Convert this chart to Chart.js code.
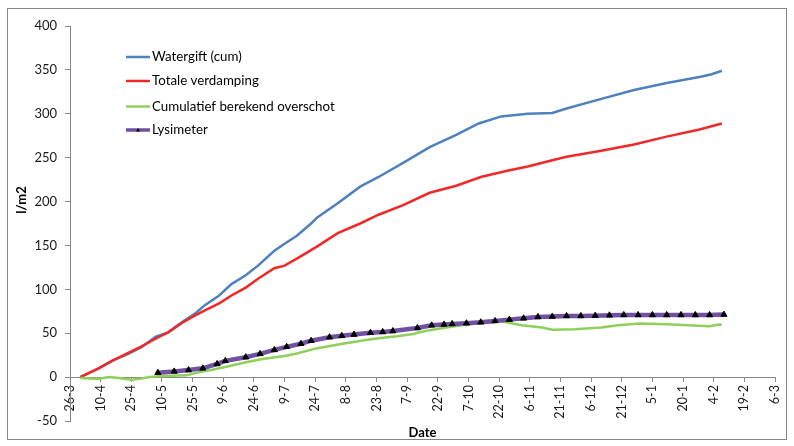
<!DOCTYPE html>
<html>
<head>
<meta charset="utf-8">
<script src="https://cdn.jsdelivr.net/npm/chart.js@4.4.0/dist/chart.umd.min.js"></script>
<style>
  html, body { margin: 0; padding: 0; background: #ffffff; }
  #wrap { width: 794px; height: 446px; position: relative; }
</style>
</head>
<body>
<div id="wrap"><canvas id="chart" width="794" height="446"></canvas></div>
<script>
// Axis labels: one every 15 days, starting 26-3
const tickLabels = ['26-3','10-4','25-4','10-5','25-5','9-6','24-6','9-7','24-7','8-8','23-8','7-9','22-9','7-10','22-10','6-11','21-11','6-12','21-12','5-1','20-1','4-2','19-2','6-3'];
const seriesNames = ['Watergift (cum)', 'Totale verdamping', 'Cumulatief berekend overschot', 'Lysimeter'];
const yAxisTitle = 'l/m2';
const xAxisTitle = 'Date';

// Day numbers count from 26-3 (day 0); values in l/m2
const waterDays   = [5,14,21,28,35,42,48,55,61,66,73,79,86,92,100,105,111,118,121,131,142,151,163,176,189,200,211,224,236,243,260,276,292,308,314,319];
const waterValues = [0,10,19,26,34,46,51,63,72,82,93,106,116,127,144,152,161,175,182,198,217,228,244,262,276,289,297,300,301,306,317,327,335,342,345,349];

const evapDays   = [5,14,21,28,35,42,48,55,61,66,73,79,86,92,100,105,111,121,131,142,151,163,176,189,201,214,224,236,243,260,276,292,308,319];
const evapValues = [0,10,19,27,35,44,51,62,70,76,84,93,102,112,124,127,135,149,164,175,185,196,210,218,228,235,240,247,251,258,265,274,282,289];

const surplusDays   = [5,10,14,19,24,30,34,39,43,57,64,69,77,86,95,105,111,121,132,144,150,160,168,170,176,184,194,202,211,221,231,236,247,260,268,279,292,305,313,316,319];
const surplusValues = [-1,-1.5,-2,0,-1,-3,-2,0,1,2,6,8,12,17,21,24,27,33,37.5,42,44,46.5,49,50.5,53.5,56.5,60,61.7,63.5,59,56.5,54,54.5,56.5,59,61,60.2,58.7,58,59.4,60];

const lysiDays   = [43,51,58,65,72,76,86,93,100,106,113,118,127,133,139,147,153,158,170,177,183,187,194,201,208,215,222,229,236,243,250,257,264,271,278,285,292,299,306,313,320];
const lysiValues = [5,6.5,8,10,15,18.5,22.7,26.5,31,34.5,38,41.5,45.5,47,48.5,50.5,51.5,52.5,56,59,60,60.6,61.4,62.5,64,65.5,67,68.5,69,69.7,69.7,70,70.4,70.8,70.8,70.8,70.8,70.8,70.8,70.8,71.2];

const toPoints = (days, values) => days.map((d, i) => ({ x: d, y: values[i] }));

const FONT = 'Lato, "Liberation Sans", Arial, sans-serif';
const AXIS_GREY = '#868686';

// Outer frame, vertical axis title and the in-plot legend
const frameAndLegend = {
  id: 'frameAndLegend',
  beforeDraw(chart) {
    const ctx = chart.ctx;
    ctx.save();
    ctx.fillStyle = '#ffffff';
    ctx.fillRect(0, 0, chart.width, chart.height);
    ctx.strokeStyle = AXIS_GREY;
    ctx.lineWidth = 1;
    ctx.strokeRect(7.5, 8.5, 779, 431);
    ctx.restore();
  },
  afterDraw(chart) {
    const ctx = chart.ctx;
    ctx.save();
    // vertical axis title, reading bottom to top
    ctx.font = 'bold 13px ' + FONT;
    ctx.fillStyle = '#000000';
    ctx.textAlign = 'center';
    ctx.textBaseline = 'middle';
    ctx.translate(22, 200);
    ctx.rotate(-Math.PI / 2);
    ctx.fillText(yAxisTitle, 0, 0);
    ctx.restore();

    const rowsY = [57, 81, 106.5, 130];
    const x0 = 126, x1 = 150, tx = 152;
    ctx.save();
    ctx.font = '13.3px ' + FONT;
    ctx.textBaseline = 'middle';
    ctx.textAlign = 'left';
    chart.data.datasets.forEach((ds, i) => {
      const y = rowsY[i];
      ctx.strokeStyle = ds.borderColor;
      ctx.lineWidth = i === 3 ? 3.5 : 2.5;
      ctx.lineCap = 'butt';
      ctx.beginPath();
      ctx.moveTo(x0, y);
      ctx.lineTo(x1, y);
      ctx.stroke();
      if (i === 3) {
        ctx.fillStyle = '#000000';
        ctx.beginPath();
        ctx.moveTo(138, y - 2);
        ctx.lineTo(140, y + 1.5);
        ctx.lineTo(136, y + 1.5);
        ctx.closePath();
        ctx.fill();
      }
      ctx.fillStyle = '#000000';
      ctx.fillText(ds.label, tx, y);
    });
    ctx.restore();
  }
};

new Chart(document.getElementById('chart'), {
  type: 'line',
  data: {
    datasets: [
      {
        label: seriesNames[0],
        data: toPoints(waterDays, waterValues),
        borderColor: '#4F81BD',
        borderWidth: 2.5,
        pointRadius: 0,
        tension: 0,
        order: 4
      },
      {
        label: seriesNames[1],
        data: toPoints(evapDays, evapValues),
        borderColor: '#F02828',
        borderWidth: 2.5,
        pointRadius: 0,
        tension: 0,
        order: 3
      },
      {
        label: seriesNames[2],
        data: toPoints(surplusDays, surplusValues),
        borderColor: '#8FCF5A',
        borderWidth: 2.5,
        pointRadius: 0,
        tension: 0,
        order: 2
      },
      {
        label: seriesNames[3],
        data: toPoints(lysiDays, lysiValues),
        borderColor: '#7050A2',
        borderWidth: 4.5,
        pointStyle: 'triangle',
        pointRadius: 3.5,
        pointBackgroundColor: '#000000',
        pointBorderColor: '#000000',
        pointBorderWidth: 1,
        tension: 0,
        order: 1
      }
    ]
  },
  options: {
    responsive: false,
    animation: false,
    devicePixelRatio: 1,
    layout: { padding: { top: 26, right: 11, bottom: 25, left: 0 } },
    plugins: {
      legend: { display: false },
      tooltip: { enabled: false }
    },
    scales: {
      x: {
        type: 'linear',
        position: { y: 0 },
        min: 0,
        max: 345,
        afterFit: (scale) => { scale.height = 25; },
        grid: { display: true, drawOnChartArea: false, drawTicks: true, tickLength: 4, color: AXIS_GREY },
        border: { display: true, color: AXIS_GREY, width: 1 },
        ticks: {
          stepSize: 15,
          autoSkip: false,
          maxRotation: 90,
          minRotation: 90,
          padding: 4,
          color: '#1a1a1a',
          font: { family: FONT, size: 12.5 },
          callback: (v) => tickLabels[Math.round(v / 15)]
        },
        title: {
          display: true,
          text: xAxisTitle,
          color: '#000000',
          font: { family: FONT, size: 13, weight: 'bold' },
          padding: { top: 0, bottom: -38.5 }
        }
      },
      y: {
        type: 'linear',
        position: 'left',
        min: -50,
        max: 400,
        afterFit: (scale) => { scale.width = 70; },
        grid: { display: true, drawOnChartArea: false, drawTicks: true, tickLength: 5, color: AXIS_GREY },
        border: { display: true, color: AXIS_GREY, width: 1 },
        ticks: {
          stepSize: 50,
          padding: 8,
          color: '#1a1a1a',
          font: { family: FONT, size: 13 }
        },
        title: { display: false }
      }
    }
  },
  plugins: [frameAndLegend]
});
</script>
</body>
</html>
